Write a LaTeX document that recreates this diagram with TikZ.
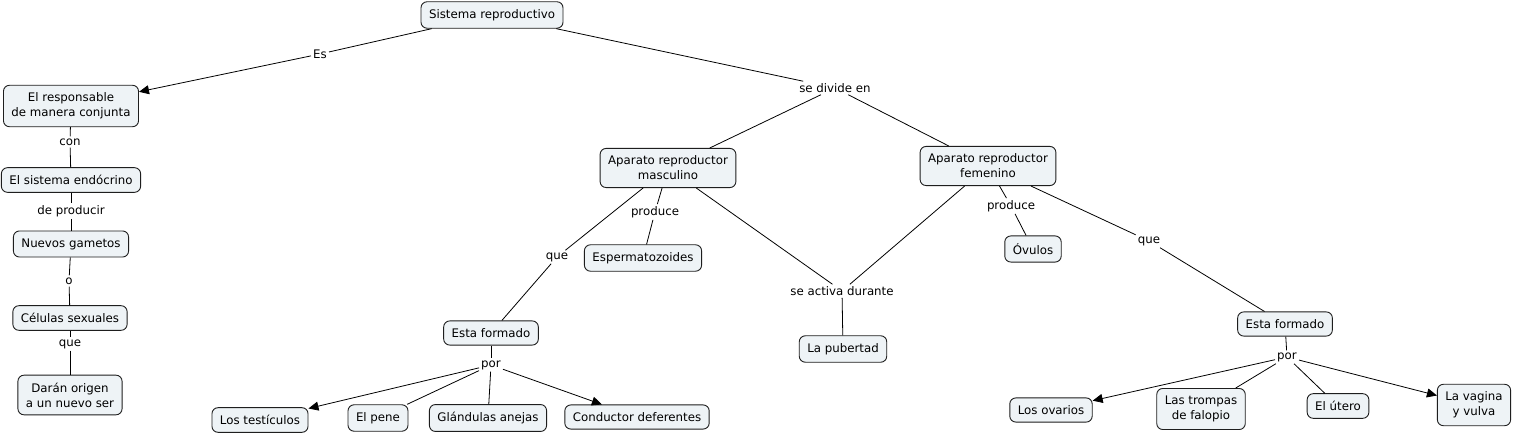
\documentclass[tikz,border=0pt]{standalone}
\usepackage{fontspec}
\setmainfont{DejaVu Sans}
\usetikzlibrary{arrows.meta}
\definecolor{boxfill}{RGB}{238,243,246}
\definecolor{boxline}{RGB}{30,30,30}
\begin{document}
\begin{tikzpicture}[x=1pt,y=-1pt,
  concept/.style={draw=boxline,fill=boxfill,rounded corners=6pt,line width=0.9pt,
    align=center,inner xsep=8pt,inner ysep=7.5pt,font=\fontsize{11.8}{15}\selectfont},
  lbl/.style={inner sep=2pt,font=\fontsize{11.8}{15}\selectfont},
  conn/.style={draw=black,line width=0.8pt},
  arr/.style={conn,-{Triangle[length=10pt,width=9pt]}}]
\useasboundingbox[fill=white] (0,0) rectangle (1514,435);
% concepts
\node[concept] (sis) at (492,15) {Sistema reproductivo};
\node[concept] (resp) at (71,106) {El responsable\\de manera conjunta};
\node[concept] (endo) at (71,180) {El sistema endócrino};
\node[concept] (gam) at (71,244) {Nuevos gametos};
\node[concept] (cel) at (70,318) {Células sexuales};
\node[concept] (dar) at (70,395) {Darán origen\\a un nuevo ser};
\node[concept] (masc) at (668,168) {Aparato reproductor\\masculino};
\node[concept] (fem) at (988,166) {Aparato reproductor\\femenino};
\node[concept] (esp) at (643,258) {Espermatozoides};
\node[concept] (efl) at (491,333) {Esta formado};
\node[concept] (pub) at (843,349) {La pubertad};
\node[concept] (tes) at (260,420) {Los testículos};
\node[concept] (pene) at (378,418) {El pene};
\node[concept] (glan) at (488,418) {Glándulas anejas};
\node[concept] (cond) at (637,417) {Conductor deferentes};
\node[concept] (ovu) at (1033,249) {Óvulos};
\node[concept] (efr) at (1285,324) {Esta formado};
\node[concept] (ova) at (1051,410) {Los ovarios};
\node[concept] (tro) at (1201,409) {Las trompas\\de falopio};
\node[concept] (ute) at (1338,406) {El útero};
\node[concept] (vag) at (1474,405) {La vagina\\y vulva};
% labels
\node[lbl] (les) at (320,54) {Es};
\node[lbl] (ldiv) at (835,88) {se divide en};
\node[lbl] (lcon) at (70,142) {con};
\node[lbl] (lprod) at (71,211) {de producir};
\node[lbl] (lo) at (69,281) {o};
\node[lbl] (lque1) at (70,344) {que};
\node[lbl] (lpm) at (655,212) {produce};
\node[lbl] (lqm) at (557,257) {que};
\node[lbl] (lact) at (842,291) {se activa durante};
\node[lbl] (lporl) at (491,365) {por};
\node[lbl] (lpf) at (1011,206) {produce};
\node[lbl] (lqf) at (1149,241) {que};
\node[lbl] (lporr) at (1287,357) {por};
% connectors
\draw[conn] (sis) -- (les);
\draw[arr] (les) -- (resp);
\draw[conn] (sis) -- (ldiv);
\draw[conn] (ldiv) -- (masc);
\draw[conn] (ldiv) -- (fem);
\draw[conn] (resp) -- (lcon);
\draw[conn] (lcon) -- (endo);
\draw[conn] (endo) -- (lprod);
\draw[conn] (lprod) -- (gam);
\draw[conn] (gam) -- (lo);
\draw[conn] (lo) -- (cel);
\draw[conn] (cel) -- (lque1);
\draw[conn] (lque1) -- (dar);
\draw[conn] (masc) -- (lpm);
\draw[conn] (lpm) -- (esp);
\draw[conn] (masc) -- (lqm);
\draw[conn] (lqm) -- (efl);
\draw[conn] (masc) -- (lact);
\draw[conn] (fem) -- (lact);
\draw[conn] (lact) -- (pub);
\draw[conn] (efl) -- (lporl);
\draw[arr] (lporl) -- (tes);
\draw[conn] (lporl) -- (pene);
\draw[conn] (lporl) -- (glan);
\draw[arr] (lporl) -- (cond);
\draw[conn] (fem) -- (lpf);
\draw[conn] (lpf) -- (ovu);
\draw[conn] (fem) -- (lqf);
\draw[conn] (lqf) -- (efr);
\draw[conn] (efr) -- (lporr);
\draw[arr] (lporr) -- (ova);
\draw[conn] (lporr) -- (tro);
\draw[conn] (lporr) -- (ute);
\draw[arr] (lporr) -- (vag);
\end{tikzpicture}
\end{document}
